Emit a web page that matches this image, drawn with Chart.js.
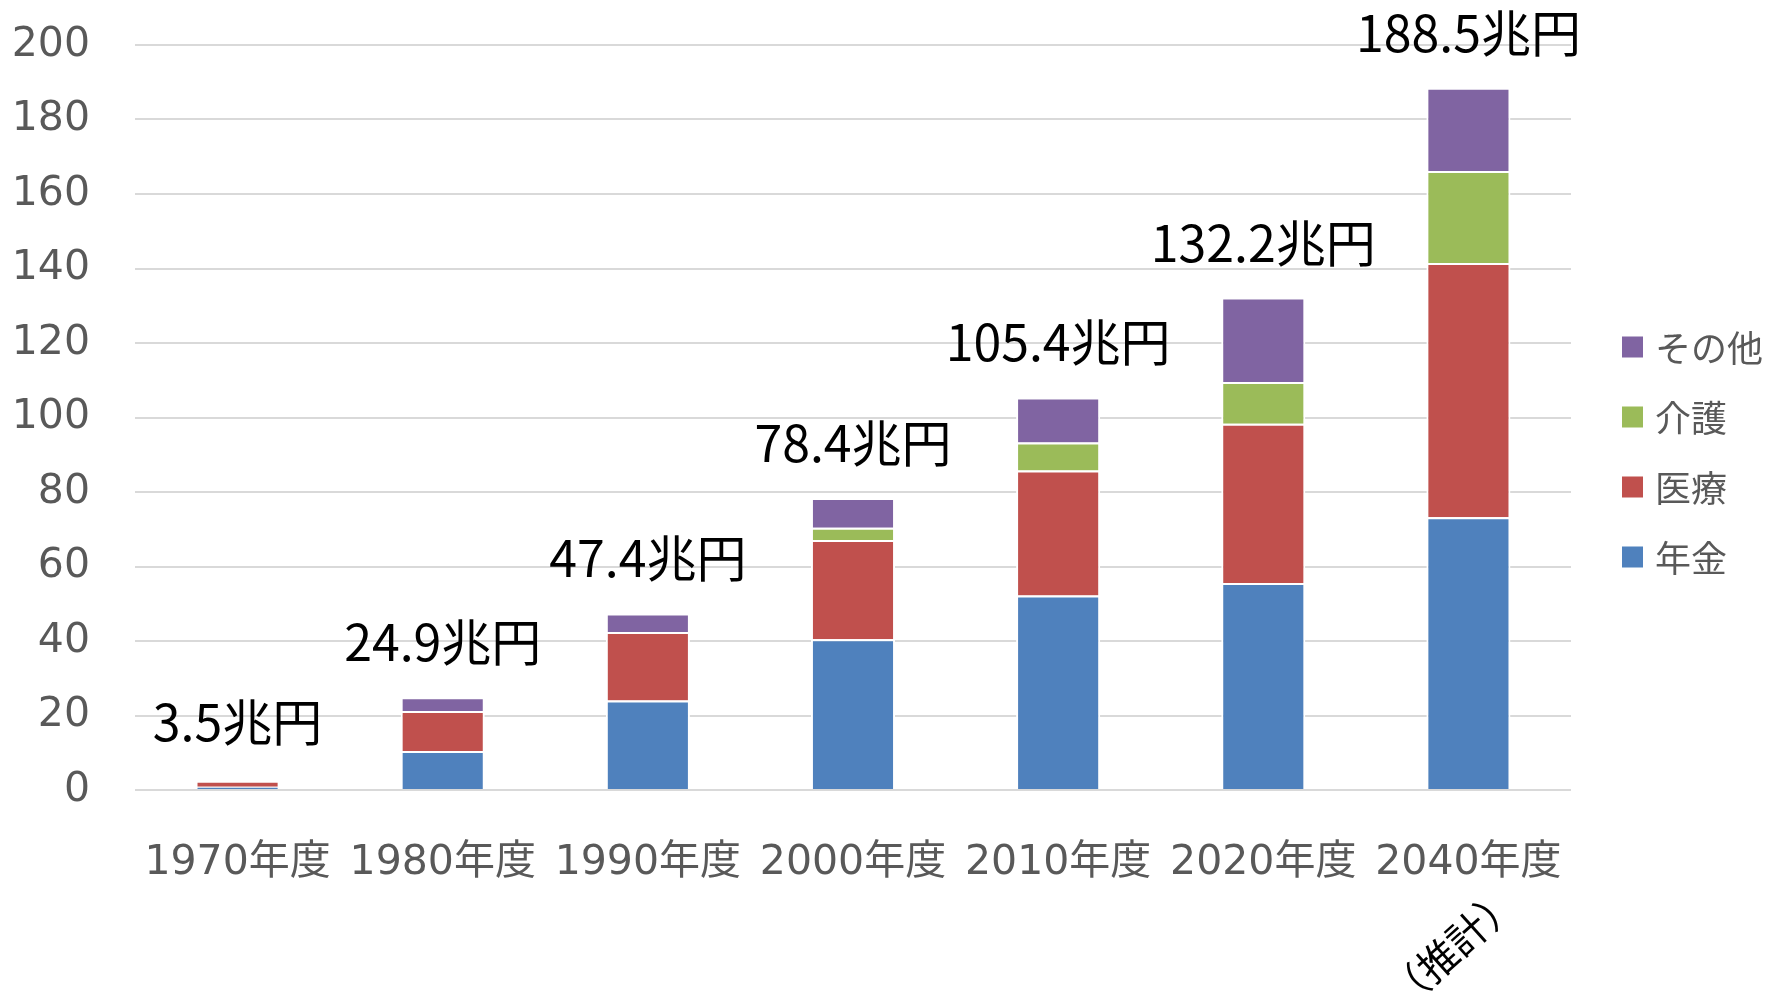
<!DOCTYPE html>
<html>
<head>
<meta charset="utf-8">
<script src="https://cdn.jsdelivr.net/npm/chart.js@4/dist/chart.umd.min.js"></script>
<style>
html,body{margin:0;padding:0;background:#fff;}
#wrap{width:1766px;height:997px;position:relative;}
</style>
</head>
<body>
<div id="wrap"><canvas id="c" width="1766" height="997"></canvas></div>
<script>
const categories = ['1970年度','1980年度','1990年度','2000年度','2010年度','2020年度','2040年度'];
const pension  = [0.9, 10.5, 24.0, 40.5, 52.2, 55.6, 73.2];
const medical  = [1.6, 10.7, 18.4, 26.6, 33.6, 42.7, 68.3];
const care     = [null, null, null, 3.3, 7.5, 11.2, 24.7];
const other    = [null, 3.7, 5.0, 8.0, 12.1, 22.7, 22.3];
const totals   = [3.5, 24.9, 47.4, 78.4, 105.4, 132.2, 188.5];
const unit = '兆円';
const note = '（推計）';
const noteIndex = 6;
const yTicks = [0,20,40,60,80,100,120,140,160,180,200];

const tickFont = '"DejaVu Sans", "Noto Sans CJK JP", sans-serif';
const cjkFont = '"Noto Sans CJK JP", sans-serif';

const overlay = {
  id: 'overlay',
  afterDatasetsDraw(chart) {
    const ctx = chart.ctx;
    const xs = chart.scales.x, ys = chart.scales.y;
    ctx.save();
    ctx.fillStyle = '#000';
    ctx.font = '50px ' + cjkFont;
    ctx.textAlign = 'center';
    ctx.textBaseline = 'middle';
    totals.forEach((t, i) => {
      const x = xs.getPixelForValue(i);
      const y = ys.getPixelForValue(t) - 55;
      ctx.fillText(t.toFixed(1) + unit, x, y);
    });
    ctx.restore();
  },
  afterDraw(chart) {
    const ctx = chart.ctx;
    const xs = chart.scales.x;
    const area = chart.chartArea;
    ctx.save();
    const ds = chart.data.datasets;
    const n = ds.length;
    ctx.font = '36px ' + cjkFont;
    ctx.textBaseline = 'middle';
    ctx.textAlign = 'left';
    for (let j = 0; j < n; j++) {
      const d = ds[n - 1 - j];
      const cy = 347 + j * 70;
      const bx = area.right + 51;
      ctx.fillStyle = d.backgroundColor;
      ctx.fillRect(bx, cy - 10.5, 21, 21);
      ctx.fillStyle = '#595959';
      ctx.fillText(d.label, bx + 33, cy + 1);
    }
    const nx = xs.getPixelForValue(noteIndex) - 16;
    const ny = 947;
    ctx.translate(nx, ny);
    ctx.rotate(-42 * Math.PI / 180);
    ctx.fillStyle = '#000';
    ctx.font = '40px ' + cjkFont;
    ctx.textAlign = 'center';
    ctx.textBaseline = 'middle';
    ctx.fillText(note, 0, 0);
    ctx.restore();
  }
};

const common = { borderColor: '#ffffff', borderWidth: 2, barPercentage: 0.41, categoryPercentage: 1.0 };

new Chart(document.getElementById('c'), {
  type: 'bar',
  data: {
    labels: categories,
    datasets: [
      Object.assign({ label: '年金', data: pension, backgroundColor: '#4F81BD' }, common),
      Object.assign({ label: '医療', data: medical, backgroundColor: '#C0504D' }, common),
      Object.assign({ label: '介護', data: care, backgroundColor: '#9BBB59' }, common),
      Object.assign({ label: 'その他', data: other, backgroundColor: '#8064A2' }, common)
    ]
  },
  options: {
    responsive: false,
    animation: false,
    devicePixelRatio: 1,
    layout: { padding: { left: 0, right: 195, top: 45, bottom: 0 } },
    plugins: { legend: { display: false }, tooltip: { enabled: false } },
    scales: {
      x: {
        stacked: true,
        grid: { display: false, drawTicks: false },
        border: { display: false },
        ticks: { color: '#595959', font: { family: tickFont, size: 41 }, padding: 49, maxRotation: 0, autoSkip: false },
        afterFit(s) { s.height = 207; s.paddingLeft = 0; s.paddingRight = 0; }
      },
      y: {
        stacked: true,
        min: 0, max: 200,
        afterBuildTicks(s) { s.ticks = yTicks.map(v => ({ value: v })); },
        grid: { color: '#d9d9d9', lineWidth: 2, drawTicks: false },
        border: { display: false },
        ticks: { color: '#595959', font: { family: tickFont, size: 41 }, padding: 45 },
        afterFit(s) { s.width = 135; s.paddingTop = 0; s.paddingBottom = 0; }
      }
    }
  },
  plugins: [overlay]
});
</script>
</body>
</html>
